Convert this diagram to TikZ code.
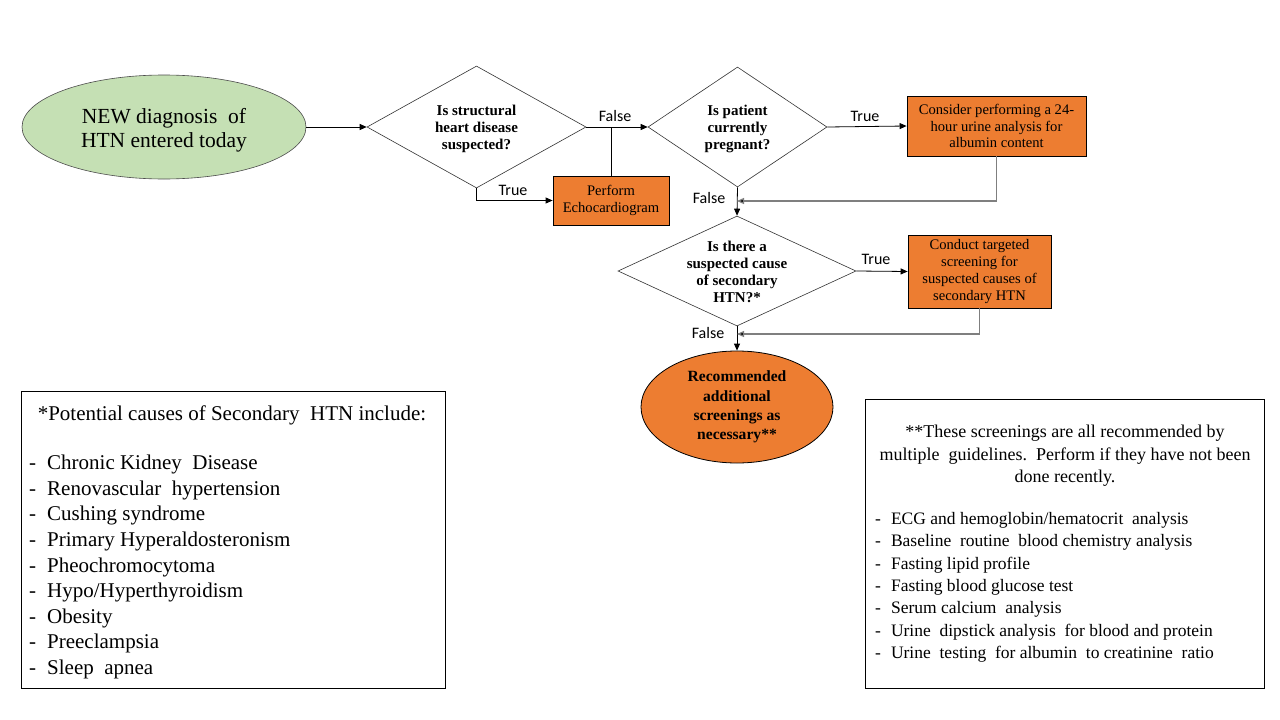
\documentclass[tikz,border=0pt]{standalone}
\usepackage{fontspec}
\setmainfont{Liberation Serif}
\newfontfamily\lblfont{Carlito}
\usetikzlibrary{shapes.geometric,arrows.meta}
\definecolor{orng}{HTML}{ED7D31}
\definecolor{lgreen}{HTML}{C5E0B4}
\definecolor{conngray}{HTML}{7F7F7F}
\tikzset{
  arr/.style={draw=black,line width=0.8pt,-{Triangle[length=7pt,width=6pt]}},
  garr/.style={draw=conngray,line width=1.2pt,-{Triangle[length=7pt,width=6pt,fill=black]}},
  plainline/.style={draw=black,line width=0.8pt},
  decision/.style={diamond,draw=black!80,line width=0.6pt,inner sep=0pt,fill=white},
  dtext/.style={align=center,font=\fontsize{15}{17}\selectfont\bfseries,inner sep=0pt},
  obox/.style={rectangle,draw=black,line width=0.8pt,fill=orng,inner sep=0pt,align=center,font=\fontsize{14.6}{16.8}\selectfont},
  lbl/.style={font=\lblfont\fontsize{16}{18}\selectfont,inner sep=0pt},
  infobox/.style={rectangle,draw=black,line width=0.8pt,inner sep=0pt},
}
\begin{document}
\begin{tikzpicture}[x=1pt,y=-1pt]
\useasboundingbox[fill=white] (0,0) rectangle (1280,720);
% start ellipse
\node[ellipse,draw=black!70,line width=0.6pt,fill=lgreen,minimum width=284,minimum height=104,inner sep=0pt] (start) at (164,127) {};
\node[align=center,inner sep=0pt,font=\fontsize{21.5}{24}\selectfont] (starttxt) at (164,130) {NEW diagnosis\ \ of\\HTN entered today};
% diamonds
\node[decision,minimum width=219,minimum height=122] (d1) at (476.5,127) {};
\node[dtext] (t1) at (476.5,129) {Is structural\\heart disease\\suspected?};
\node[decision,minimum width=179,minimum height=120] (d2) at (737.5,127) {};
\node[dtext] (t2) at (737.5,129) {Is patient\\currently\\pregnant?};
\node[decision,minimum width=238,minimum height=110] (d3) at (737,271) {};
\node[dtext] (t3) at (737,272) {Is there a\\suspected cause\\of secondary\\HTN?*};
% orange boxes
\node[obox,minimum width=116,minimum height=49] (echo) at (611,200.5) {Perform\\Echocardiogram};
\node[obox,minimum width=179,minimum height=60] (urine) at (996.5,126) {Consider performing a 24-\\hour urine analysis for\\albumin content};
\node[obox,minimum width=143,minimum height=73] (screen) at (979.5,271.5) {Conduct targeted\\screening for\\suspected causes of\\secondary HTN};
% end ellipse
\node[ellipse,draw=black,line width=0.8pt,fill=orng,minimum width=192,minimum height=112,inner sep=0pt,align=center,font=\fontsize{15.6}{19.3}\selectfont\bfseries] (rec) at (737,407) {Recommended\\additional\\screenings as\\necessary**};
% connectors
\draw[arr] (start.east) -- (d1.west);
\coordinate (j1) at (611,127);
\draw[arr] (d1.east) -- (d2.west);
\draw[plainline] (echo.north) -- (j1);
\node[lbl] (f1) at (615,116) {False};
\draw[arr] (d1.south) |- (echo.west);
\node[lbl] (tr1) at (513,190) {True};
\draw[arr] (d2.east) -- (urine.west);
\node[lbl] (tr2) at (865,116) {True};
\draw[arr] (d2.south) -- (d3.north);
\node[lbl] (f2) at (709,198) {False};
\coordinate (m2) at (737,201);
\draw[garr] (urine.south) |- (m2);
\draw[arr] (d3.east) -- (screen.west);
\node[lbl] (tr3) at (876,259) {True};
\draw[arr] (d3.south) -- (rec.north);
\node[lbl] (f3) at (708,333) {False};
\coordinate (m3) at (737,334);
\draw[garr] (screen.south) |- (m3);
% left info box
\node[infobox,minimum width=424,minimum height=297] (lbox) at (233,539.5) {};
\node[font=\fontsize{21}{25.5}\selectfont,inner sep=0pt,anchor=center] (ltitle) at (232,415) {*Potential\ causes\ of Secondary\ \ HTN\ include:};
\node[font=\fontsize{21}{25.6}\selectfont,inner sep=0pt,anchor=north west,align=left] (llist) at (29,455) {%
-\hspace{11pt}Chronic Kidney\ \ Disease\\
-\hspace{11pt}Renovascular\ \ hypertension\\
-\hspace{11pt}Cushing syndrome\\
-\hspace{11pt}Primary Hyperaldosteronism\\
-\hspace{11pt}Pheochromocytoma\\
-\hspace{11pt}Hypo/Hyperthyroidism\\
-\hspace{11pt}Obesity\\
-\hspace{11pt}Preeclampsia\\
-\hspace{11pt}Sleep\ \ apnea};
% right info box
\node[infobox,minimum width=399,minimum height=289] (rbox) at (1064.5,543.5) {};
\node[font=\fontsize{18}{22.5}\selectfont,inner sep=0pt,align=center] (rtitle) at (1065,456) {**These screenings are all recommended by\\multiple\ \ guidelines.\ \ Perform if they have not been\\done recently.};
\node[font=\fontsize{17.5}{22.4}\selectfont,inner sep=0pt,anchor=north west,align=left] (rlist) at (875,512) {%
-\hspace{10pt}ECG and hemoglobin/hematocrit\ \ analysis\\
-\hspace{10pt}Baseline\ \ routine\ \ blood chemistry analysis\\
-\hspace{10pt}Fasting lipid profile\\
-\hspace{10pt}Fasting blood glucose test\\
-\hspace{10pt}Serum calcium\ \ analysis\\
-\hspace{10pt}Urine\ \ dipstick analysis\ \ for blood and protein\\
-\hspace{10pt}Urine\ \ testing\ \ for albumin\ \ to creatinine\ \ ratio};
\end{tikzpicture}
\end{document}
